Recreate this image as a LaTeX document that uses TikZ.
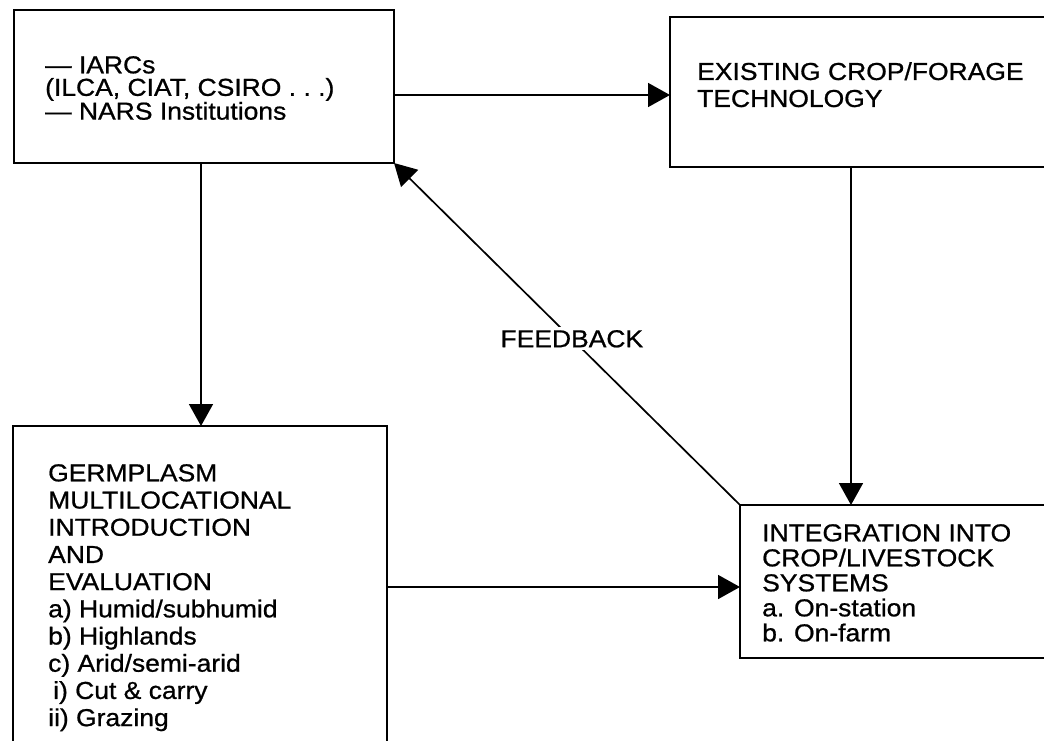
\documentclass[tikz,border=0pt]{standalone}
\usepackage{fontspec}
\setmainfont{Liberation Sans}[FakeStretch=1.08,FakeBold=0.8]
\usetikzlibrary{arrows.meta}
\begin{document}
\begin{tikzpicture}[x=1pt,y=-1pt,
  box/.style={draw, line width=1.9pt, anchor=north west, inner sep=0pt, outer sep=0pt},
  txt/.style={anchor=north west, inner sep=0pt, align=left, font=\fontsize{24.5}{#1}\selectfont},
  arr/.style={line width=1.7pt, -{Triangle[length=22pt,width=24pt]}}]
\useasboundingbox (0,0) rectangle (1044,741);
\clip (0,0) rectangle (1044,741);
\node[box, minimum width=380pt, minimum height=153pt] (A) at (14,10) {};
\node[box, minimum width=400pt, minimum height=150pt] (B) at (670,17) {};
\node[box, minimum width=374pt, minimum height=340pt] (C) at (13,426) {};
\node[box, minimum width=320pt, minimum height=153pt] (D) at (740,505) {};
\node[txt=22.5] (At) at (45,56) {--- IARCs\\(ILCA, CIAT, CSIRO .\ .\ .)\\--- NARS Institutions};
\node[txt=27] (Bt) at (697,62) {EXISTING CROP/FORAGE\\TECHNOLOGY};
\node[txt=27.2] (Ct) at (48,464) {GERMPLASM\\MULTILOCATIONAL\\INTRODUCTION\\AND\\EVALUATION\\a) Humid/subhumid\\b) Highlands\\c) Arid/semi-arid\\\hspace*{5pt}i) Cut \& carry\\ii) Grazing};
\node[txt=25] (Dt) at (762,524) {INTEGRATION INTO\\CROP/LIVESTOCK\\SYSTEMS\\a. On-station\\b. On-farm};
\coordinate (ab) at (0,95);
\coordinate (ac) at (201,0);
\coordinate (bd) at (851,0);
\coordinate (cd) at (0,587);
\draw[arr] (A.east |- ab) -- (B.west |- ab);
\draw[arr] (A.south -| ac) -- (C.north -| ac);
\draw[arr] (B.south -| bd) -- (D.north -| bd);
\draw[arr] (C.east |- cd) -- (D.west |- cd);
\draw[arr] (D.north west) -- node[pos=0.486, fill=white, inner sep=3pt, font=\fontsize{24.5}{27}\selectfont] (fb) {FEEDBACK} (A.south east);
\end{tikzpicture}
\end{document}
